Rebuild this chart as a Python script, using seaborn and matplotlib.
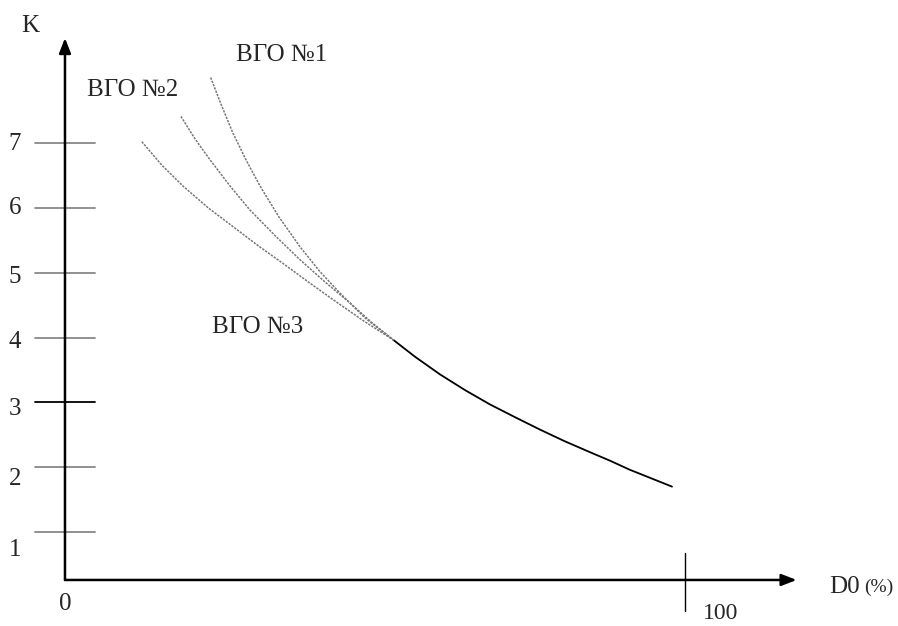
import matplotlib
matplotlib.use("Agg")
import pandas as pd
import seaborn as sns
import matplotlib.pyplot as plt

# ---------------------------------------
# Data
# ---------------------------------------
# common solid part of the curve (D0 %, K)
solid_x = [53.0, 56.5, 60.5, 64.5, 68.5, 72.6, 76.6, 80.6, 84.7, 87.9, 91.1, 94.5, 97.9]
solid_y = [3.96, 3.70, 3.43, 3.19, 2.97, 2.77, 2.58, 2.40, 2.23, 2.10, 1.96, 1.83, 1.70]

# dashed branches for each feedstock
vgo1_x = [23.5, 25.2, 27.1, 29.2, 31.5, 34.5, 37.9, 41.0, 44.4, 48.4, 53.0]
vgo1_y = [8.01, 7.59, 7.15, 6.74, 6.33, 5.86, 5.40, 5.03, 4.68, 4.30, 3.96]
vgo2_x = [18.7, 21.0, 23.4, 26.6, 29.8, 33.9, 37.9, 41.9, 46.0, 49.5, 53.0]
vgo2_y = [7.41, 7.06, 6.74, 6.34, 5.97, 5.57, 5.20, 4.86, 4.53, 4.23, 3.96]
vgo3_x = [12.4, 15.6, 19.1, 23.1, 27.1, 31.1, 35.2, 39.2, 43.3, 48.1, 53.0]
vgo3_y = [7.02, 6.66, 6.33, 6.00, 5.71, 5.42, 5.14, 4.86, 4.58, 4.26, 3.96]

branch_names = ["ВГО №1", "ВГО №2", "ВГО №3"]
y_ticks = [1, 2, 3, 4, 5, 6, 7]
x_marks = ["0", "100"]

# ---------------------------------------
# Figure setup
# ---------------------------------------
sns.set_style("white")
plt.rcParams['font.family'] = ['Liberation Serif', 'DejaVu Serif']

fig = plt.figure(figsize=(8.98, 6.26), dpi=100)
ax = fig.add_axes([0, 0, 1, 1])
ax.set_xlim(-10.48, 134.35)
ax.set_ylim(-0.45, 9.206)
ax.axis("off")

# curves
solid = pd.DataFrame({"x": solid_x, "y": solid_y})
sns.lineplot(data=solid, x="x", y="y", color="black", lw=1.3, sort=False,
             solid_joinstyle="round", ax=ax)
for bx, by in [(vgo1_x, vgo1_y), (vgo2_x, vgo2_y), (vgo3_x, vgo3_y)]:
    br = pd.DataFrame({"x": bx, "y": by})
    sns.lineplot(data=br, x="x", y="y", color="#777777", lw=1.1,
                 linestyle=(0, (1.5, 0.8)), sort=False, ax=ax)

# axes with arrows
x_axis_y = 0.26
ax.annotate("", xy=(118.0, x_axis_y), xytext=(0, x_axis_y),
            arrowprops=dict(arrowstyle="-|>,head_length=0.9,head_width=0.35",
                            color="black", lw=1.8, shrinkA=0, shrinkB=0))
ax.annotate("", xy=(0, 8.62), xytext=(0, x_axis_y),
            arrowprops=dict(arrowstyle="-|>,head_length=0.9,head_width=0.35",
                            color="black", lw=1.8, shrinkA=0, shrinkB=0))

# y ticks crossing the axis
label_y = [0.72, 1.81, 2.9, 3.93, 4.93, 5.99, 6.98]
for t, ly in zip(y_ticks, label_y):
    col = "black" if t == 3 else "#888888"
    ax.plot([-4.84, 4.84], [t, t], color=col, lw=1.3)
    ax.text(-8.1, ly, str(t), fontsize=18, ha="center", va="center")

# tick at 100 on x axis
ax.plot([100, 100], [0.68, -0.22], color="black", lw=1)
ax.text(0, -0.11, x_marks[0], fontsize=18, ha="center", va="center")
ax.text(105.8, -0.26, x_marks[1], fontsize=17, ha="center", va="center")

# axis titles
ax.text(-5.65, 8.80, "K", fontsize=18, ha="center", va="center")
ax.text(123.2, 0.15, "D0", fontsize=18, ha="left", va="center")
ax.text(128.9, 0.15, "(%)", fontsize=14, ha="left", va="center")

# branch labels
ax.text(35.0, 8.36, branch_names[0], fontsize=18, ha="center", va="center")
ax.text(10.9, 7.82, branch_names[1], fontsize=18, ha="center", va="center")
ax.text(31.1, 4.16, branch_names[2], fontsize=18, ha="center", va="center")

plt.savefig("out.png", dpi=100)
